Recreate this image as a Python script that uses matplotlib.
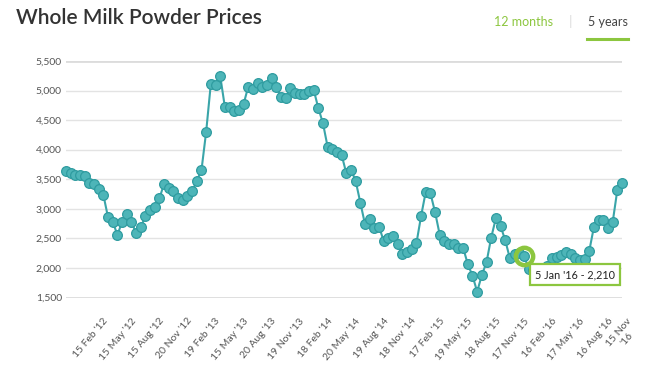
import matplotlib.pyplot as plt
from matplotlib.lines import Line2D
from matplotlib.transforms import ScaledTranslation

# GDT whole milk powder auction prices, twice monthly, Nov 2011 - Nov 2016
prices = [
    3640, 3600, 3570, 3570, 3550, 3435, 3425, 3330, 3235, 2855,
    2783, 2558, 2778, 2908, 2778, 2592, 2688, 2876, 2981, 3037,
    3178, 3425, 3358, 3296, 3178, 3155, 3214, 3296, 3473, 3657,
    4305, 5116, 5100, 5252, 4722, 4728, 4649, 4666, 4768, 5066,
    5030, 5123, 5066, 5100, 5218, 5066, 4897, 4875, 5043, 4967,
    4945, 4945, 4990, 5015, 4705, 4446, 4046, 4012, 3966, 3910,
    3600, 3662, 3470, 3103, 2738, 2828, 2681, 2698, 2455, 2512,
    2540, 2405, 2236, 2275, 2320, 2416, 2878, 3289, 3262, 2941,
    2557, 2460, 2400, 2405, 2332, 2342, 2061, 1869, 1598, 1880,
    2095, 2512, 2839, 2709, 2472, 2163, 2240, 2258, 2210, 1990,
    1970, 1960, 1990, 2040, 2170, 2190, 2220, 2275, 2230, 2170,
    2130, 2150, 2290, 2698, 2811, 2811, 2681, 2772, 3318, 3441,
]

tick_idx = [5, 11, 17, 23, 29, 35, 41, 47, 53, 59,
            65, 71, 77, 83, 89, 95, 101, 107, 113, 119]
tick_labels = ["15 Feb '12", "15 May '12", "15 Aug '12", "20 Nov '12",
               "19 Feb '13", "15 May '13", "20 Aug '13", "19 Nov '13",
               "18 Feb '14", "20 May '14", "19 Aug '14", "18 Nov '14",
               "17 Feb '15", "19 May '15", "18 Aug '15", "17 Nov '15",
               "16 Feb '16", "17 May '16", "16 Aug '16", "15 Nov\n'16"]
y_ticks = [1500, 2000, 2500, 3000, 3500, 4000, 4500, 5000, 5500]

hover_idx = 98
hover_text = "5 Jan '16 - 2,210"

W, H = 652, 377
plt.rcParams["font.family"] = ["Lato", "DejaVu Sans"]

fig = plt.figure(figsize=(W / 100, H / 100), dpi=100)
ax = fig.add_axes([66 / W, 1 - 297.5 / H, 556 / W, 236.5 / H])

teal_line = "#3aa5a9"
teal_face = "#4db5b8"
teal_edge = "#2f9ca0"
green = "#8cc63f"

xs = list(range(len(prices)))
ax.plot(xs, prices, color=teal_line, lw=1.5, zorder=3, clip_on=False)
ax.plot(xs, prices, ls="none", marker="o", ms=7, mfc=teal_face,
        mec=teal_edge, mew=0.9, zorder=4, clip_on=False)

# hover halo + tooltip
ax.plot([hover_idx], [prices[hover_idx]], ls="none", marker="o", ms=12.5,
        mfc="none", mec=green, mew=3.2, zorder=5, clip_on=False)
ax.annotate(hover_text, (hover_idx, prices[hover_idx]),
            xytext=(51, -19), textcoords="offset pixels",
            ha="center", va="center", fontsize=7.8, color="#222222",
            bbox=dict(boxstyle="square,pad=0.48", fc="white", ec=green, lw=1.6),
            zorder=6)

ax.set_xlim(0, len(prices) - 1)
ax.set_ylim(1500, 5500)
ax.set_yticks(y_ticks)
ax.set_yticklabels([f"{v:,}" for v in y_ticks])
ax.grid(axis="y", color="#e3e3e3", lw=1)
ax.set_axisbelow(True)
for v in (1500, 5500):
    ax.axhline(v, color="#dcdcdc", lw=2, zorder=1)
for s in ax.spines.values():
    s.set_visible(False)

ax.set_xticks(tick_idx)
ax.set_xticklabels(tick_labels, rotation=50, ha="right", va="top",
                   rotation_mode="anchor", multialignment="center")
ax.tick_params(axis="x", length=0, pad=0, labelsize=7.5, labelcolor="#555555")
ax.tick_params(axis="y", length=0, pad=3, labelsize=7.5, labelcolor="#555555")
xlabels = ax.get_xticklabels()
for lab in xlabels[:-1]:
    lab.set_transform(lab.get_transform()
                      + ScaledTranslation(0.137, -0.19, fig.dpi_scale_trans))
# last label is squeezed in against the right edge
xlabels[-1].set_transform(xlabels[-1].get_transform()
                          + ScaledTranslation(0.04, -0.19, fig.dpi_scale_trans))

# header
fig.text(16 / W, 1 - 18 / H, "Whole Milk Powder Prices", fontsize=15,
         fontweight="semibold", color="#333333", va="center", ha="left")
fig.text(523 / W, 1 - 21.5 / H, "12 months", fontsize=9, color=green,
         ha="center", va="center")
fig.text(570 / W, 1 - 21.5 / H, "|", fontsize=10, color="#dddddd",
         ha="center", va="center")
fig.text(607.5 / W, 1 - 21.5 / H, "5 years", fontsize=9, color="#444444",
         ha="center", va="center")
fig.add_artist(Line2D([587 / W, 628 / W], [1 - 38.5 / H, 1 - 38.5 / H],
                      color=green, lw=2.2))

fig.savefig("out.png", dpi=100)
